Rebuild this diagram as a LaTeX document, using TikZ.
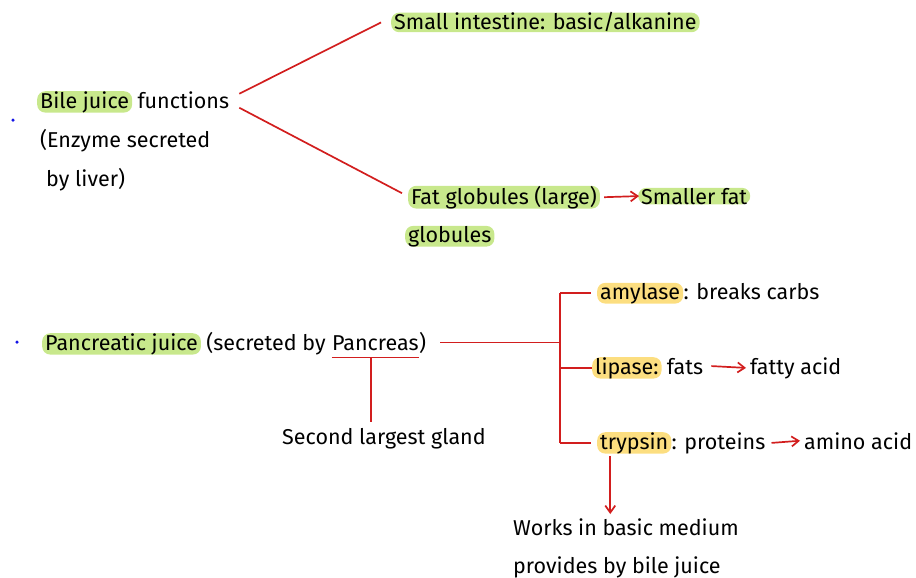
\documentclass[tikz,border=0pt]{standalone}
\usepackage{fontspec}
\setmainfont{Fira Sans}
\usetikzlibrary{arrows.meta,calc}
\definecolor{hlgreen}{RGB}{200,232,140}
\definecolor{hlyellow}{RGB}{252,222,128}
\definecolor{redline}{RGB}{210,30,30}
\definecolor{dotblue}{RGB}{20,20,230}
\begin{document}
\begin{tikzpicture}[x=1pt,y=-1pt,
  txt/.style={inner sep=0pt, font=\fontsize{21.5}{25}\selectfont, anchor=base west},
  hlg/.style={txt, fill=hlgreen, rounded corners=8pt, inner xsep=3pt, inner ysep=0pt},
  hly/.style={txt, fill=hlyellow, rounded corners=8pt, inner xsep=3pt, inner ysep=0pt},
  con/.style={draw=redline, line width=1.7pt},
  arr/.style={con, -{Straight Barb[length=7pt,width=10pt]}},
  bullet/.style={circle, fill=dotblue, inner sep=0pt, minimum size=3.5pt}]
\useasboundingbox (0,0) rectangle (916,578);

% ---- Bile juice block
\node[bullet] (d1) at (13,120) {};
\node[hlg] (bj) at (37,108) {Bile juice};
\node[txt] (bjf) at ([xshift=5pt]bj.base east) {functions};
\node[txt] (enz) at (40,147) {(Enzyme secreted};
\node[txt] (liv) at (46,186) {by liver)};

\node[hlg] (si) at (391,30) {Small intestine: basic/alkanine\hspace{18pt}};
\node[hlg] (fg) at (408,204) {Fat globules (large)};
\node[hlg] (sf) at (638,204) {Smaller fat};
\node[hlg] (gl) at (405,242) {globules};

\draw[con] ([shift={(10,-6)}]bjf.east) -- ([xshift=-10]si.west);
\draw[con] ([shift={(10,8)}]bjf.east) -- ([shift={(-6,-4)}]fg.west);
\draw[arr] ([xshift=4]fg.east) -- ([xshift=1]sf.west);

% ---- Pancreatic juice block
\node[bullet] (d2) at (17,342) {};
\node[hlg] (pj) at (42,350) {Pancreatic juice};
\node[txt] (sec) at ([xshift=5pt]pj.base east) {(secreted by};
\node[txt] (pan) at ([xshift=6pt]sec.base east) {Pancreas};
\node[txt] (cl) at (pan.base east) {)};
\node[txt] (gland) at (282,444) {Second largest gland};

\coordinate (ul1) at ([yshift=-7]pan.south west);
\coordinate (ul2) at ([yshift=-7]pan.south east);
\coordinate (ulm) at ($(ul1)!0.45!(ul2)$);
\draw[con] (ul1) -- (ul2);
\draw[con] (ulm) -- ([yshift=6]ulm |- gland.north);

\node[hly] (am) at (597,299) {amylase};
\node[txt] (amt) at (am.base east) {: breaks carbs};
\node[hly] (li) at (592,374) {lipase:};
\node[txt] (fats) at ([xshift=5pt]li.base east) {fats};
\node[txt] (fa) at (750,374) {fatty acid};
\node[hly] (tr) at (597,449) {trypsin};
\node[txt] (trt) at (tr.base east) {: proteins};
\node[txt] (aa) at (804,449) {amino acid};
\node[txt] (wk1) at (513,535) {Works in basic medium};
\node[txt] (wk2) at (513,573) {provides by bile juice};

\coordinate (brx) at (560,0);
\coordinate (pjr) at ([xshift=14]cl.east);
\draw[con] (pjr) -- (pjr -| brx);
\draw[con] (am.west -| brx) -- (tr.west -| brx);
\draw[con] (am.west -| brx) -- ([xshift=-6]am.west);
\draw[con] (li.west -| brx) -- (li.west);
\draw[con] (tr.west -| brx) -- ([xshift=-6]tr.west);
\draw[arr] ([xshift=8]fats.east) -- ([xshift=-4]fa.west);
\draw[arr] ([xshift=6]trt.east) -- ([xshift=-4]aa.west);
\coordinate (ta) at ([xshift=-24]tr.south);
\draw[arr] ([yshift=-2]ta) -- ([yshift=4]ta |- wk1.north);
\end{tikzpicture}
\end{document}
